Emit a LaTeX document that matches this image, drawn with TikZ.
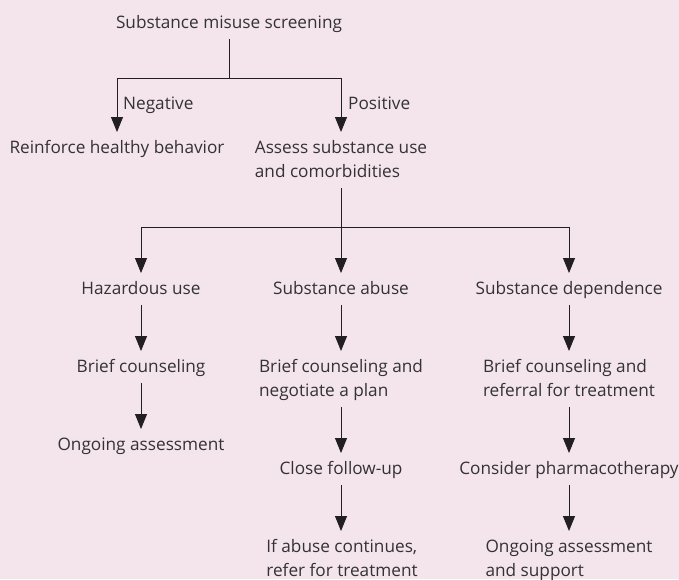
\documentclass[tikz,border=0pt]{standalone}
\usepackage{fontspec}
\setmainfont{Open Sans}
\usetikzlibrary{arrows.meta}
\definecolor{bgpink}{HTML}{F4E4EC}
\definecolor{linec}{HTML}{231F20}
\definecolor{txtc}{HTML}{333333}
\newcommand\tbl[1]{\begin{tabular}[t]{@{}l@{}}#1\end{tabular}}
\tikzset{
  txt/.style={anchor=base, inner xsep=0pt, inner ysep=4pt, text=txtc,
    font=\fontsize{17.2}{24}\selectfont},
  lab/.style={anchor=base west, inner sep=0pt, text=txtc,
    font=\fontsize{17.2}{24}\selectfont},
  ln/.style={draw=linec, line width=0.9pt},
  arr/.style={ln, -{Triangle[width=12pt,length=15pt]}},
}
\begin{document}
\begin{tikzpicture}[x=1pt,y=-1pt]
\fill[bgpink] (0,0) rectangle (679,579);
\useasboundingbox (0,0) rectangle (679,579);
% nodes
\node[txt] (screen) at (229,28) {\tbl{Substance misuse screening}};
\node[txt] (reinf) at (117,153) {\tbl{Reinforce healthy behavior}};
\node[txt] (assess) at (341,153) {\tbl{Assess substance use\\and comorbidities}};
\node[txt] (haz) at (141,294) {\tbl{Hazardous use}};
\node[txt] (abuse) at (341,294) {\tbl{Substance abuse}};
\node[txt] (dep) at (569,294) {\tbl{Substance dependence}};
\node[txt] (bc1) at (141,372) {\tbl{Brief counseling}};
\node[txt] (bc2) at (341,372) {\tbl{Brief counseling and\\negotiate a plan}};
\node[txt] (bc3) at (569,372) {\tbl{Brief counseling and\\referral for treatment}};
\node[txt] (og1) at (141,450) {\tbl{Ongoing assessment}};
\node[txt] (close) at (341,474) {\tbl{Close follow-up}};
\node[txt] (pharm) at (569,474) {\tbl{Consider pharmacotherapy}};
\node[txt] (ifab) at (342,552) {\tbl{If abuse continues,\\refer for treatment}};
\node[txt] (og3) at (569,552) {\tbl{Ongoing assessment\\and support}};
\node[lab] (neg) at (123,109) {Negative};
\node[lab] (pos) at (348,109) {Positive};
% junctions
\coordinate (j1) at (229,78);
\coordinate (j2) at (341,227);
% connectors
\draw[ln] (screen.south) -- (j1);
\draw[arr] (j1) -| (reinf.north);
\draw[arr] (j1) -| (assess.north);
\draw[ln] (assess.south) -- (j2);
\draw[arr] (j2) -| (haz.north);
\draw[arr] (j2) -- (abuse.north);
\draw[arr] (j2) -| (dep.north);
\draw[arr] (haz.south) -- (bc1.north);
\draw[arr] (bc1.south) -- (og1.north);
\draw[arr] (abuse.south) -- (bc2.north);
\draw[arr] (bc2.south) -- (close.north);
\draw[arr] (close.south -| abuse.south) -- (abuse.south |- ifab.north);
\draw[arr] (dep.south) -- (bc3.north);
\draw[arr] (bc3.south) -- (pharm.north);
\draw[arr] (pharm.south) -- (og3.north);
\end{tikzpicture}
\end{document}
